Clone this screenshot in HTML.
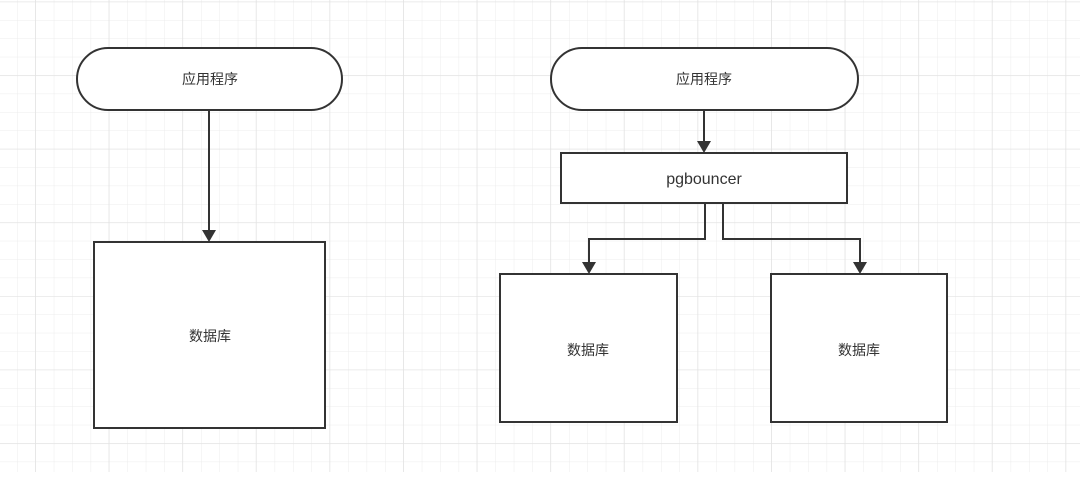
<!DOCTYPE html>
<html><head><meta charset="utf-8"><style>
body{margin:0;width:1080px;height:472px;overflow:hidden;background:#fff;}
</style></head><body>
<svg width="1080" height="472" xmlns="http://www.w3.org/2000/svg">
<defs>
<pattern id="g" x="-1.4" y="1.6" width="18.4" height="18.4" patternUnits="userSpaceOnUse">
<path d="M0 0H18.4M0 0V18.4" stroke="#ececec" stroke-width="1" fill="none"/>
</pattern>
<pattern id="G" x="35" y="1.6" width="73.6" height="73.6" patternUnits="userSpaceOnUse">
<path d="M0 0H73.6M0 0V73.6" stroke="#e2e2e2" stroke-width="1.3" fill="none"/>
</pattern>
<marker id="a" markerWidth="10" markerHeight="10" refX="5" refY="9" orient="0" markerUnits="userSpaceOnUse">
<path d="M0 0L10 0L5 10z" fill="#333"/>
</marker>
</defs>
<rect width="1080" height="472" fill="url(#g)"/>
<rect width="1080" height="472" fill="url(#G)"/>
<g stroke="#333" stroke-width="2" fill="#fff">
<rect x="77" y="48" width="265" height="62" rx="31"/>
<rect x="94" y="242" width="231" height="186"/>
<rect x="551" y="48" width="307" height="62" rx="31"/>
<rect x="561" y="153" width="286" height="50"/>
<rect x="500" y="274" width="177" height="148"/>
<rect x="771" y="274" width="176" height="148"/>
</g>
<g stroke="#333" stroke-width="2" fill="none">
<path d="M209 110V232"/><path d="M202 230L216 230L209 242z" fill="#333" stroke="none"/>
<path d="M704 110V143"/><path d="M697 141L711 141L704 153z" fill="#333" stroke="none"/>
<path d="M705 203V239H589V264"/><path d="M582 262L596 262L589 274z" fill="#333" stroke="none"/>
<path d="M723 203V239H860V264"/><path d="M853 262L867 262L860 274z" fill="#333" stroke="none"/>
</g>
<g font-family="Liberation Sans, Noto Sans CJK SC, sans-serif" font-size="14" fill="#333" text-anchor="middle">
<text x="210" y="84">应用程序</text>
<text x="210" y="341">数据库</text>
<text x="704" y="84">应用程序</text>
<text x="704" y="184" font-size="16">pgbouncer</text>
<text x="588" y="355">数据库</text>
<text x="859" y="355">数据库</text>
</g>
</svg>
</body></html>
